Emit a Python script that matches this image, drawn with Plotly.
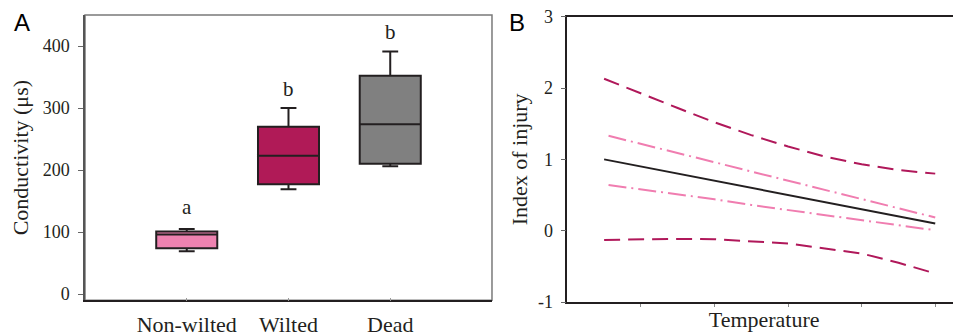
import plotly.graph_objects as go

# ---- Panel A data (box plot statistics) ----
groups = ["Non-wilted", "Wilted", "Dead"]
q1_vals = [74, 177, 210]
median_vals = [96, 223, 274]
q3_vals = [101, 270, 352]
lower_vals = [69, 169, 206]
upper_vals = [105, 300, 391]
box_colors = ["#EE82B0", "#B01A57", "#808080"]
sig_letters = ["a", "b", "b"]
sig_y = [141, 330, 422]
a_ticks = [0, 100, 200, 300, 400]

# ---- Panel B data (regression lines) ----
x_main = [0.5, 1.0, 1.5, 2.0, 2.5, 3.0, 3.5, 4.0, 4.5, 5.0]
fit_line = [1.00, 0.90, 0.80, 0.70, 0.60, 0.50, 0.40, 0.30, 0.20, 0.10]
pred_upper = [2.13, 1.92, 1.72, 1.52, 1.34, 1.18, 1.04, 0.93, 0.85, 0.80]
pred_lower = [-0.13, -0.12, -0.115, -0.12, -0.145, -0.18, -0.25, -0.32, -0.45, -0.60]
x_ci = [0.56, 1.0, 1.5, 2.0, 2.5, 3.0, 3.5, 4.0, 4.5, 5.0]
ci_upper = [1.33, 1.22, 1.09, 0.96, 0.83, 0.70, 0.57, 0.44, 0.31, 0.185]
ci_lower = [0.64, 0.58, 0.51, 0.44, 0.36, 0.29, 0.22, 0.15, 0.08, 0.006]
b_ticks = [-1, 0, 1, 2, 3]
b_ticktext = ["-1", "0", "1", "2", "3"]
b_xticks = [1, 2, 3, 4, 5]

SERIF = "Liberation Serif, Times New Roman, serif"
SANS = "Liberation Sans, Arial, sans-serif"
DARK = "#231F20"
MAGENTA = "#B0185A"
PINK = "#F07DB0"

fig = go.Figure()

for i, g in enumerate(groups):
    fig.add_trace(go.Box(
        x=[g], q1=[q1_vals[i]], median=[median_vals[i]], q3=[q3_vals[i]],
        lowerfence=[lower_vals[i]], upperfence=[upper_vals[i]],
        fillcolor=box_colors[i], line=dict(color=DARK, width=2),
        width=0.6, whiskerwidth=0.26, boxpoints=False,
        xaxis="x", yaxis="y", showlegend=False, hoverinfo="skip",
    ))

for g, t, yv in zip(groups, sig_letters, sig_y):
    fig.add_annotation(x=g, y=yv, xref="x", yref="y", text=t, showarrow=False,
                       font=dict(family=SERIF, size=21, color=DARK))

fig.add_trace(go.Scatter(x=x_main, y=pred_upper, mode="lines", xaxis="x2", yaxis="y2",
                         line=dict(color=MAGENTA, width=2, dash="16px,8px"), showlegend=False))
fig.add_trace(go.Scatter(x=x_main, y=pred_lower, mode="lines", xaxis="x2", yaxis="y2",
                         line=dict(color=MAGENTA, width=2, dash="16px,8px"), showlegend=False))
fig.add_trace(go.Scatter(x=x_ci, y=ci_upper, mode="lines", xaxis="x2", yaxis="y2",
                         line=dict(color=PINK, width=2, dash="18px,5px,2px,5px"), showlegend=False))
fig.add_trace(go.Scatter(x=x_ci, y=ci_lower, mode="lines", xaxis="x2", yaxis="y2",
                         line=dict(color=PINK, width=2, dash="18px,5px,2px,5px"), showlegend=False))
fig.add_trace(go.Scatter(x=x_main, y=fit_line, mode="lines", xaxis="x2", yaxis="y2",
                         line=dict(color=DARK, width=2), showlegend=False))

# Panel A frame (gray top/right)
fig.add_shape(type="rect", xref="x domain", yref="y domain", x0=0, x1=1, y0=0, y1=1,
              line=dict(color="#7A7A7A", width=1.5), layer="below")

fig.add_annotation(text="A", x=-0.0719, y=0.9756, xref="paper", yref="paper", showarrow=False,
                   xanchor="center", yanchor="middle",
                   font=dict(family=SANS, size=24, color="black"))
fig.add_annotation(text="B", x=0.4932, y=0.9756, xref="paper", yref="paper", showarrow=False,
                   xanchor="center", yanchor="middle",
                   font=dict(family=SANS, size=24, color="black"))

fig.update_layout(
    width=953, height=324,
    margin=dict(l=77, r=0, t=7, b=30.3, autoexpand=False),
    paper_bgcolor="white", plot_bgcolor="white",
    font=dict(family=SERIF, color=DARK),
    xaxis=dict(domain=[0, 0.4646], anchor="y", type="category",
               categoryorder="array", categoryarray=groups, automargin=False,
               range=[-1, 3], showline=True, linecolor=DARK, linewidth=1.5,
               ticks="inside", ticklen=3, tickcolor="#999",
               tickfont=dict(family=SERIF, size=22, color=DARK),
               ticklabelstandoff=4, showgrid=False, zeroline=False),
    yaxis=dict(domain=[0.0059, 1.0], anchor="x", range=[-10, 450], automargin=False,
               tickvals=a_ticks, showline=True, linecolor="#555", linewidth=1.5,
               ticks="outside", ticklen=5, tickcolor="#666",
               tickfont=dict(family=SERIF, size=18, color=DARK),
               ticklabelstandoff=5,
               showgrid=False, zeroline=False,
               title=dict(text="Conductivity (μs)", font=dict(family=SERIF, size=22, color=DARK),
                          standoff=9)),
    xaxis2=dict(domain=[0.5506, 1.0], anchor="y2", range=[0, 5.35], automargin=False,
                tickvals=b_xticks, showticklabels=False,
                showline=True, mirror=True, linecolor=DARK, linewidth=1.5,
                ticks="outside", ticklen=3, tickcolor="#888",
                showgrid=False, zeroline=False,
                title=dict(text="Temperature", font=dict(family=SERIF, size=22, color=DARK),
                           standoff=8)),
    yaxis2=dict(domain=[0, 0.994], anchor="x2", range=[-1, 3], automargin=False,
                tickvals=b_ticks, ticktext=b_ticktext, ticklabeloverflow="allow",
                showline=True, linecolor=DARK, linewidth=1.5,
                ticks="outside", ticklen=5, tickcolor="#666",
                tickfont=dict(family=SERIF, size=18, color=DARK),
                ticklabelstandoff=4,
                showgrid=False, zeroline=False,
                title=dict(text="Index of injury", font=dict(family=SERIF, size=22, color=DARK),
                           standoff=4)),
)

fig.write_html("out.html")
